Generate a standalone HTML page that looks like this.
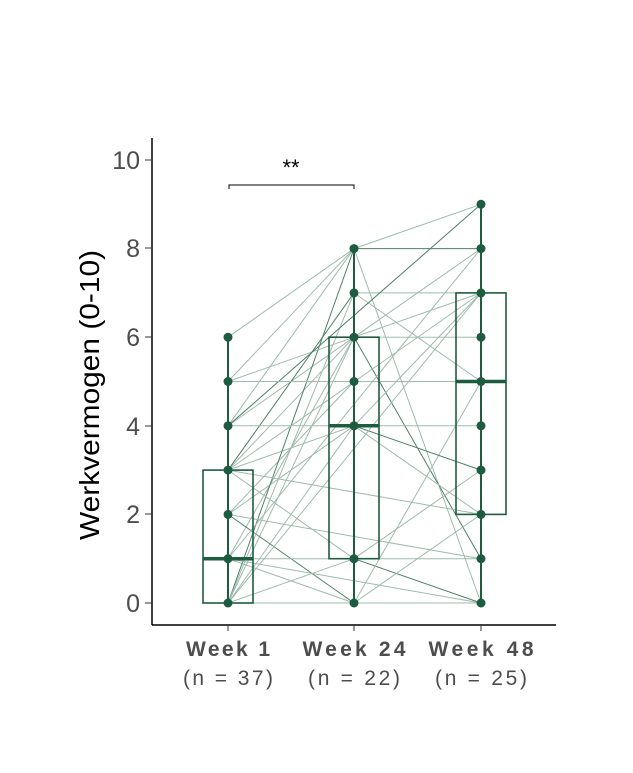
<!DOCTYPE html>
<html><head><meta charset="utf-8"><style>
body{margin:0;background:#fff;width:633px;height:768px;overflow:hidden}
svg text{font-family:"Liberation Sans",sans-serif}
</style></head><body>
<svg id="s" width="633" height="768" xmlns="http://www.w3.org/2000/svg">
<g id="lines"></g>
<g id="fg"></g>
<line x1="152" y1="138" x2="152" y2="625" stroke="#000" stroke-width="1.5"/>
<line x1="152" y1="625" x2="556" y2="625" stroke="#000" stroke-width="1.5"/>
<g font-size="25" fill="#4d4d4d" text-anchor="end">
<text x="140" y="612">0</text><text x="140" y="523">2</text><text x="140" y="435">4</text><text x="140" y="346">6</text><text x="140" y="257">8</text><text x="140" y="169">10</text>
</g>
<g stroke="#333" stroke-width="1"><line x1="145" y1="603" x2="152" y2="603"/><line x1="145" y1="514" x2="152" y2="514"/><line x1="145" y1="426" x2="152" y2="426"/><line x1="145" y1="337" x2="152" y2="337"/><line x1="145" y1="248" x2="152" y2="248"/><line x1="145" y1="160" x2="152" y2="160"/>
<line x1="228" y1="625" x2="228" y2="631"/><line x1="354" y1="625" x2="354" y2="631"/><line x1="481" y1="625" x2="481" y2="631"/></g>
<text transform="translate(99,395) rotate(-90)" font-size="28" text-anchor="middle" textLength="290" lengthAdjust="spacingAndGlyphs" fill="#000">Werkvermogen (0-10)</text>
<g font-size="21" fill="#4d4d4d" text-anchor="middle" lengthAdjust="spacingAndGlyphs">
<text x="228" y="656" font-weight="bold" textLength="84">Week 1</text><text x="228" y="685" textLength="90">(n = 37)</text>
<text x="354" y="656" font-weight="bold" textLength="103">Week 24</text><text x="354" y="685" textLength="92">(n = 22)</text>
<text x="481" y="656" font-weight="bold" textLength="105">Week 48</text><text x="481" y="685" textLength="92">(n = 25)</text>
</g>
<path d="M229,189 V185 H354 V189" fill="none" stroke="#000" stroke-width="1"/>
<text x="291" y="175" font-size="22" text-anchor="middle">**</text>
</svg>
<script>
const Y=v=>603-44.3*v, X=[228,354,481], C="#1e5c40";
const ns="http://www.w3.org/2000/svg";
function el(p,t,a){const e=document.createElementNS(ns,t);for(const k in a)e.setAttribute(k,a[k]);document.getElementById(p).appendChild(e);}
const pairs=[[0,1,[[6,8],[5,8],[4,8],[4,6],[3,6],[3,7],[3,4],[2,5],[2,4],[1,6],[1,0],[0,8],[0,6],[0,4],[0,1],[0,0],[3,1],[2,0],[1,1],[5,6],[4,4],[0,7]]],
[1,2,[[8,9],[8,8],[8,0],[7,7],[7,5],[6,6],[6,7],[6,1],[5,5],[4,4],[4,2],[4,7],[1,3],[1,0],[0,2],[0,5],[1,1],[6,8],[0,0],[4,3]]],
[0,2,[[0,7],[1,8],[3,2],[0,0],[2,1],[4,9],[5,5],[3,7],[1,0]]]];
let i=0;
for(const [a,b,l] of pairs)for(const [u,v] of l){i++;el("lines","line",{x1:X[a],y1:Y(u),x2:X[b],y2:Y(v),stroke:i%6==0?"#4e8069":"#9fbbad","stroke-width":1});}
const bx=[[0,6,0,1,3],[0,8,1,4,6],[0,9,2,5,7]];
bx.forEach((b,k)=>{const x=X[k];
el("fg","line",{x1:x,y1:Y(b[0]),x2:x,y2:Y(b[1]),stroke:C,"stroke-width":2});
el("fg","rect",{x:x-25,y:Y(b[4]),width:50,height:Y(b[2])-Y(b[4]),fill:"none",stroke:C,"stroke-width":1.6});
el("fg","line",{x1:x-25,y1:Y(b[3]),x2:x+25,y2:Y(b[3]),stroke:C,"stroke-width":3.5});});
const pts=[[0,1,2,3,4,5,6],[0,1,4,5,6,7,8],[0,1,2,3,4,5,6,7,8,9]];
pts.forEach((p,k)=>p.forEach(v=>el("fg","circle",{cx:X[k],cy:Y(v),r:4.5,fill:C})));
</script>
</body></html>
